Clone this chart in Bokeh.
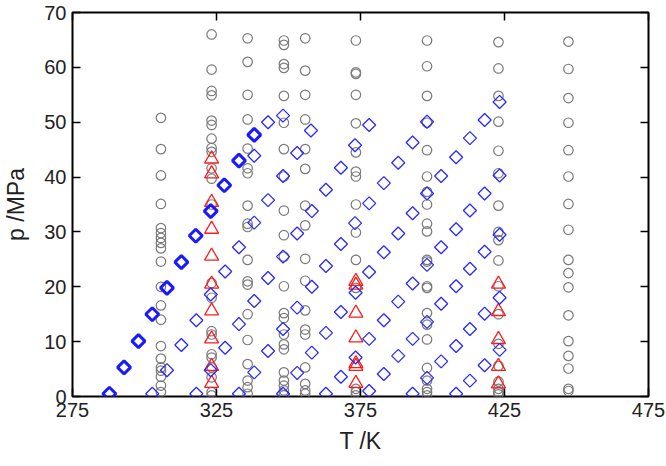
import numpy as np
from bokeh.plotting import figure
from bokeh.models import Range1d, LinearAxis, FixedTicker
from bokeh.embed import file_html
from bokeh.resources import INLINE

# ---- grey circles: isotherms (T in K, p in MPa) ----
circ_T = [305.7, 323.3, 335.8, 348.4, 355.8, 373.4, 398.1, 422.9, 447.2]
circ_p_306 = [50.8, 45.1, 40.3, 35.1, 30.7, 29.8, 28.9, 28.0, 27.0, 24.6, 20.0, 16.6, 14.0, 9.2, 6.9, 5.3, 4.7, 3.6, 2.0, 0.8]
circ_p_323 = [66.0, 59.6, 55.7, 54.9, 50.3, 49.5, 47.0, 45.3, 44.6, 41.6, 39.7, 35.0, 20.7, 18.0, 11.9, 11.3, 7.7, 7.1, 5.3, 3.5, 0.8, 0.2]
circ_p_336 = [65.3, 61.0, 55.0, 50.5, 45.2, 41.6, 40.7, 34.8, 31.5, 30.9, 24.9, 21.0, 20.4, 15.0, 10.3, 5.9, 2.9, 1.7, 0.5]
circ_p_348 = [64.9, 64.1, 60.6, 59.9, 54.8, 49.9, 45.1, 40.1, 33.9, 29.4, 25.5, 20.1, 15.2, 14.3, 11.3, 9.5, 8.6, 4.4, 2.9, 2.0, 1.1, 0.2]
circ_p_356 = [65.3, 59.4, 55.0, 50.5, 45.1, 41.5, 34.8, 31.2, 25.1, 21.1, 15.7, 12.2, 11.3, 5.3, 2.3, 1.1, 0.5]
circ_p_373 = [64.9, 59.1, 58.8, 55.0, 49.8, 44.5, 41.0, 40.1, 35.0, 29.9, 24.9, 19.8, 1.4, 0.8, 0.2]
circ_p_398 = [64.9, 60.2, 54.8, 49.9, 44.9, 40.1, 37.3, 35.0, 31.5, 30.1, 24.9, 24.6, 20.1, 19.8, 15.2, 13.1, 10.4, 5.2, 2.9, 1.4, 0.8, 0.2]
circ_p_423 = [64.6, 59.8, 54.8, 50.1, 44.8, 40.7, 34.8, 30.0, 28.5, 24.8, 20.1, 15.0, 9.6, 5.6, 2.7, 1.4, 0.8, 0.4]
circ_p_447 = [64.7, 59.7, 54.4, 49.9, 44.9, 40.1, 35.1, 30.4, 24.9, 22.5, 19.9, 14.8, 10.1, 7.4, 5.1, 1.4, 1.0]
circ_p = [circ_p_306, circ_p_323, circ_p_336, circ_p_348, circ_p_356,
          circ_p_373, circ_p_398, circ_p_423, circ_p_447]

# ---- red triangles ----
tri_T = [323.3, 373.4, 422.9]
tri_p_323 = [43.3, 40.6, 35.4, 30.5, 25.6, 20.5, 15.6, 10.5, 5.5, 2.4]
tri_p_373 = [21.0, 20.3, 15.2, 10.7, 6.0, 5.5, 2.4]
tri_p_423 = [20.5, 15.5, 10.4, 5.5, 2.3]
tri_p = [tri_p_323, tri_p_373, tri_p_423]

# ---- blue diamonds: bold series ----
bold_T = [287.8, 292.9, 297.9, 302.7, 307.8, 312.8, 317.8, 323.0, 327.7, 332.8, 338.1]
bold_p = [0.5, 5.3, 10.1, 15.0, 19.8, 24.5, 29.3, 33.8, 38.5, 43.0, 47.7]

# ---- blue diamonds: thin series ----
dia_T_0 = [338.1, 342.9, 348.1]
dia_p_0 = [43.9, 50.0, 51.2]
dia_T_1 = [302.7, 307.8, 312.8, 318.0, 323.0, 328.0, 332.8, 338.1, 342.9, 348.1, 353.0, 357.8]
dia_p_1 = [0.5, 4.8, 9.4, 13.9, 18.6, 22.8, 27.2, 31.7, 35.8, 40.2, 44.4, 48.5]
dia_T_2 = [318.0, 323.0, 328.0, 332.8, 338.1, 342.9, 348.1, 353.0, 358.1, 363.0, 368.2, 373.1, 378.0]
dia_p_2 = [0.5, 4.8, 8.9, 13.2, 17.4, 21.6, 25.5, 29.7, 33.8, 37.7, 41.7, 45.8, 49.5]
dia_T_3 = [332.8, 338.1, 342.9, 348.1, 353.0, 358.1, 363.0, 368.2, 373.1, 378.0, 383.1, 388.1, 393.1, 398.1]
dia_p_3 = [0.5, 4.4, 8.3, 12.3, 16.2, 20.0, 23.8, 27.8, 31.6, 35.2, 38.9, 42.6, 46.3, 50.1]
dia_T_4 = [348.1, 353.0, 358.1, 363.0, 368.2, 373.3, 378.0, 383.1, 388.1, 393.1, 398.1, 403.0, 408.2, 413.0, 418.1, 423.3]
dia_p_4 = [0.5, 4.3, 8.0, 11.6, 15.4, 18.9, 22.7, 26.3, 29.7, 33.4, 37.0, 40.2, 43.6, 47.1, 50.4, 53.7]
dia_T_5 = [363.0, 368.2, 373.3, 378.0, 383.1, 388.1, 393.1, 398.1, 403.0, 408.2, 413.0, 418.1, 423.3]
dia_p_5 = [0.5, 3.6, 7.1, 10.5, 13.9, 17.3, 20.6, 24.0, 27.2, 30.5, 33.9, 37.0, 40.3]
dia_T_6 = [378.0, 383.1, 388.1, 393.1, 398.1, 403.0, 408.2, 413.0, 418.1, 423.3]
dia_p_6 = [1.0, 4.1, 7.4, 10.5, 13.6, 16.9, 20.1, 23.3, 26.4, 29.5]
dia_T_7 = [393.1, 398.1, 403.0, 408.2, 413.0, 418.1, 423.3]
dia_p_7 = [0.5, 3.4, 6.4, 9.2, 12.3, 15.1, 18.0]
dia_T_8 = [408.2, 413.0, 418.1, 423.3]
dia_p_8 = [0.5, 2.9, 5.7, 8.5]
dia_T = [dia_T_0, dia_T_1, dia_T_2, dia_T_3, dia_T_4, dia_T_5, dia_T_6, dia_T_7, dia_T_8]
dia_p = [dia_p_0, dia_p_1, dia_p_2, dia_p_3, dia_p_4, dia_p_5, dia_p_6, dia_p_7, dia_p_8]

x_ticks = [275, 325, 375, 425, 475]
y_ticks = [0, 10, 20, 30, 40, 50, 60, 70]

FONT = "Liberation Sans"
TXT = "#222222"

p = figure(width=666, height=466, x_range=Range1d(275, 475), y_range=Range1d(0, 70),
           output_backend="svg", toolbar_location=None,
           min_border_left=68, min_border_right=18, min_border_top=12, min_border_bottom=70)
p.grid.visible = False
p.outline_line_color = "black"
p.outline_line_width = 2
p.background_fill_color = "white"
p.border_fill_color = "white"

def style_axis(ax, ticks, show_labels=True):
    ax.ticker = FixedTicker(ticks=ticks)
    ax.major_tick_in = 8
    ax.major_tick_out = 0
    ax.minor_tick_line_color = None
    ax.major_tick_line_color = "black"
    ax.major_tick_line_width = 1.5
    ax.axis_line_color = None
    if show_labels:
        ax.major_label_text_font = FONT
        ax.major_label_text_font_size = "20px"
        ax.major_label_text_color = TXT
        ax.major_label_standoff = 6
        ax.axis_label_text_font = FONT
        ax.axis_label_text_font_size = "23px"
        ax.axis_label_text_font_style = "normal"
        ax.axis_label_text_color = TXT
    else:
        ax.major_label_overrides = {t: "" for t in ticks}
        ax.major_label_text_font_size = "1px"
        ax.major_label_standoff = 0

style_axis(p.xaxis[0], x_ticks)
style_axis(p.yaxis[0], y_ticks)
p.xaxis[0].axis_label = "T /K"
p.xaxis[0].axis_label_standoff = 8
p.yaxis[0].axis_label = "p /MPa"
p.yaxis[0].axis_label_standoff = 12

top_ax = LinearAxis()
right_ax = LinearAxis()
style_axis(top_ax, x_ticks, False)
style_axis(right_ax, y_ticks, False)
p.add_layout(top_ax, "above")
p.add_layout(right_ax, "right")

# circles
for T, plist in zip(circ_T, circ_p):
    p.scatter([T] * len(plist), plist, marker="circle", size=9.5,
              fill_color=None, line_color="#7a7a7a", line_width=1.2)

# triangles
for T, plist in zip(tri_T, tri_p):
    p.scatter([T] * len(plist), plist, marker="triangle", size=14,
              fill_color=None, line_color="#ff1a1a", line_width=1.3)

# thin diamonds
for Ts, ps in zip(dia_T, dia_p):
    p.scatter(Ts, ps, marker="square", angle=np.pi / 4, size=9.2,
              fill_color=None, line_color="#2a2aff", line_width=1.3)

# bold diamonds
p.scatter(bold_T, bold_p, marker="square", angle=np.pi / 4, size=9.2,
          fill_color=None, line_color="#1a1aff", line_width=3)

open("out.html", "w").write(file_html(p, INLINE))
